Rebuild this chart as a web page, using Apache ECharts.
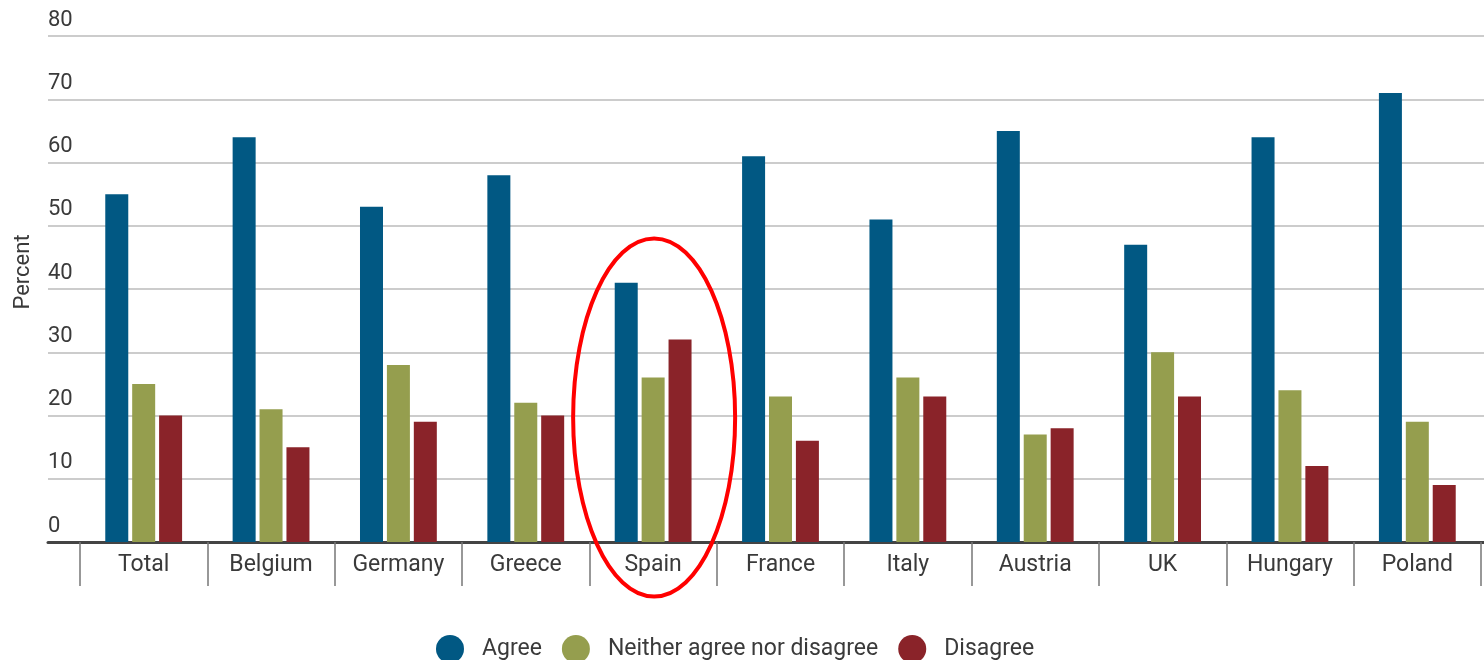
<!DOCTYPE html>
<html>
<head>
<meta charset="utf-8">
<script src="https://cdn.jsdelivr.net/npm/echarts@6/dist/echarts.min.js"></script>
<style>
  html, body { margin: 0; padding: 0; background: #fff; }
  #chart { width: 1484px; height: 660px; }
</style>
</head>
<body>
<div id="chart"></div>
<script>
// 数据
const categories = ['Total', 'Belgium', 'Germany', 'Greece', 'Spain', 'France', 'Italy', 'Austria', 'UK', 'Hungary', 'Poland']
const agree = [55, 64, 53, 58, 41, 61, 51, 65, 47, 64, 71]
const neither = [25, 21, 28, 22, 26, 23, 26, 17, 30, 24, 19]
const disagree = [20, 15, 19, 20, 32, 16, 23, 18, 23, 12, 9]
const yTicks = [0, 10, 20, 30, 40, 50, 60, 70, 80]
const highlight = 'Spain'

const font = 'Roboto, "Noto Sans", sans-serif'
const textColor = '#3a3a3a'

const chart = echarts.init(document.getElementById('chart'))

const barSeries = (name, data, color) => ({
    name: name,
    type: 'bar',
    xAxisIndex: 1,
    yAxisIndex: 1,
    data: data,
    barWidth: 23,
    barGap: '17%',
    itemStyle: { color: color }
})

const options = {
    animation: false,
    textStyle: { fontFamily: font },
    grid: [
        // 网格线、y轴文字
        { left: 48, right: 0, top: 36, bottom: 118 },
        // 柱子、类目轴
        { left: 80, right: 3, top: 36, bottom: 118 }
    ],
    xAxis: [
        {
            gridIndex: 0,
            type: 'value',
            min: 0,
            max: 1,
            axisLine: { show: true, lineStyle: { color: '#444', width: 3 } },
            axisTick: { show: false },
            axisLabel: { show: false },
            splitLine: { show: false }
        },
        {
            gridIndex: 1,
            type: 'category',
            data: categories,
            axisLine: { show: false },
            axisTick: {
                show: true,
                interval: 0,
                length: 44,
                lineStyle: { color: '#777', width: 1.5 }
            },
            axisLabel: {
                interval: 0,
                margin: 12,
                fontSize: 23,
                color: textColor,
                fontFamily: font
            }
        }
    ],
    yAxis: [
        {
            gridIndex: 0,
            type: 'value',
            min: yTicks[0],
            max: yTicks[yTicks.length - 1],
            interval: 10,
            name: 'Percent',
            nameLocation: 'middle',
            nameGap: 14,
            nameTextStyle: {
                fontSize: 22,
                color: textColor,
                fontFamily: font,
                padding: [0, 0, 0, 34]
            },
            axisLine: { show: false },
            axisTick: { show: false },
            axisLabel: {
                inside: true,
                margin: 0,
                verticalAlign: 'bottom',
                padding: [0, 0, 5, 0],
                fontSize: 22,
                color: textColor,
                fontFamily: font
            },
            splitLine: { lineStyle: { color: '#bbb', width: 1.5 } }
        },
        {
            gridIndex: 1,
            type: 'value',
            min: yTicks[0],
            max: yTicks[yTicks.length - 1],
            show: false,
            splitLine: { show: false }
        }
    ],
    legend: {
        left: 431,
        top: 630,
        icon: 'circle',
        itemWidth: 28,
        itemHeight: 28,
        itemGap: 20,
        textStyle: {
            fontSize: 23,
            color: textColor,
            fontFamily: font,
            padding: [0, 0, 0, 13]
        },
        data: ['Agree', 'Neither agree nor disagree', 'Disagree']
    },
    series: [
        barSeries('Agree', agree, '#015883'),
        barSeries('Neither agree nor disagree', neither, '#959e4e'),
        barSeries('Disagree', disagree, '#8a2329')
    ]
}

chart.setOption(options)

// 红色椭圆标注（按类目位置计算）
const cx = chart.convertToPixel({ xAxisIndex: 1 }, highlight)
const cy = chart.convertToPixel({ yAxisIndex: 1 }, 20)
chart.setOption({
    graphic: [{
        type: 'ellipse',
        shape: { cx: cx + 1, cy: cy + 2, rx: 81, ry: 179 },
        style: { fill: 'none', stroke: '#f00', lineWidth: 4 },
        z: 100
    }]
})
</script>
</body>
</html>
